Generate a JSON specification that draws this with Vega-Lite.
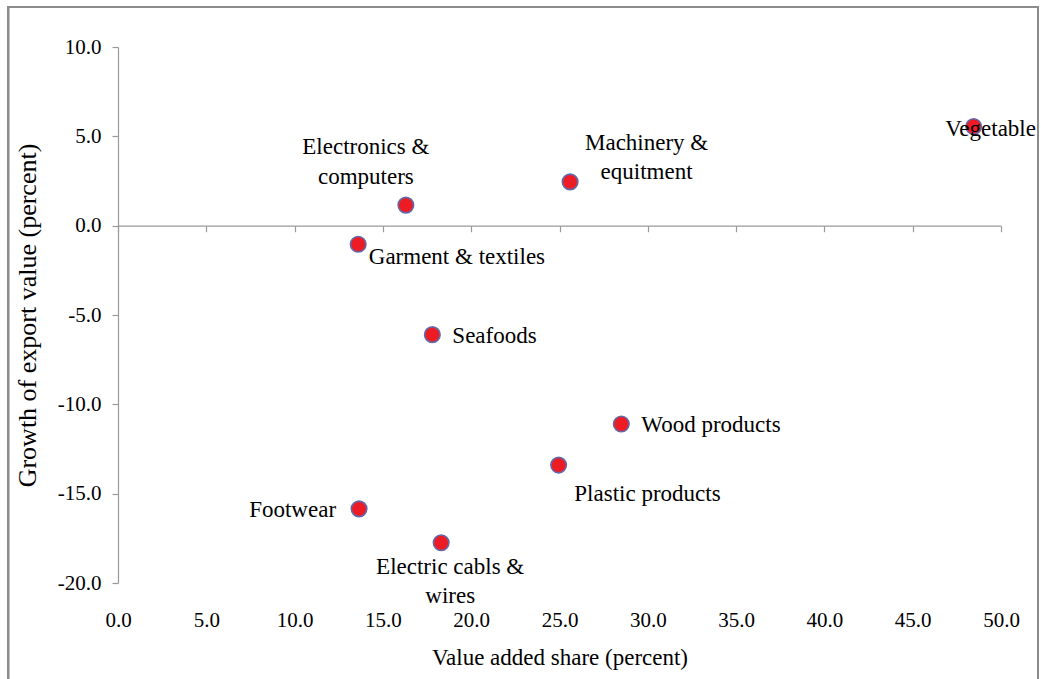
{
  "$schema": "https://vega.github.io/schema/vega-lite/v6.json",
  "width": 883,
  "height": 536,
  "autosize": {"type": "none"},
  "padding": {"left": 118, "top": 47, "right": 40, "bottom": 96},
  "background": "white",
  "config": {
    "view": {"stroke": null},
    "font": "'Liberation Serif', 'Times New Roman', 'DejaVu Serif', serif",
    "text": {"font": "'Liberation Serif', 'Times New Roman', 'DejaVu Serif', serif", "fontSize": 23, "color": "black"},
    "axis": {
      "labelFont": "'Liberation Serif', 'Times New Roman', 'DejaVu Serif', serif",
      "titleFont": "'Liberation Serif', 'Times New Roman', 'DejaVu Serif', serif",
      "labelFontSize": 21,
      "titleFontSize": 23,
      "labelColor": "black",
      "titleColor": "black",
      "titleFontWeight": "normal",
      "domainColor": "#9a9a9a",
      "tickColor": "#9a9a9a",
      "domainWidth": 1.2,
      "tickWidth": 1.2,
      "grid": false
    }
  },
  "data": {
    "values": [
      {"sector": "Electronics & computers", "label": "Electronics &\ncomputers", "share": 16.3, "growth": 1.15},
      {"sector": "Machinery & equitment", "label": "Machinery &\nequitment", "share": 25.6, "growth": 2.45},
      {"sector": "Garment & textiles", "label": "Garment & textiles", "share": 13.6, "growth": -1.04},
      {"sector": "Vegetable", "label": "Vegetable", "share": 48.45, "growth": 5.55},
      {"sector": "Seafoods", "label": "Seafoods", "share": 17.8, "growth": -6.1},
      {"sector": "Wood products", "label": "Wood products", "share": 28.5, "growth": -11.1},
      {"sector": "Plastic products", "label": "Plastic products", "share": 24.95, "growth": -13.4},
      {"sector": "Footwear", "label": "Footwear", "share": 13.65, "growth": -15.85},
      {"sector": "Electric cabls & wires", "label": "Electric cabls &\nwires", "share": 18.3, "growth": -17.75}
    ]
  },
  "encoding": {
    "x": {
      "field": "share", "type": "quantitative",
      "scale": {"domain": [0, 50], "nice": false, "zero": false},
      "axis": {
        "title": "Value added share (percent)",
        "values": [0, 5, 10, 15, 20, 25, 30, 35, 40, 45, 50],
        "format": ".1f",
        "offset": -357.3,
        "tickSize": 6,
        "labelPadding": 378,
        "labelFlush": false,
        "labelOverlap": false,
        "titleY": 439,
        "titleBaseline": "alphabetic"
      }
    },
    "y": {
      "field": "growth", "type": "quantitative",
      "scale": {"domain": [-20, 10], "nice": false, "zero": false},
      "axis": {
        "title": "Growth of export value (percent)",
        "values": [-20, -15, -10, -5, 0, 5, 10],
        "format": ".1f",
        "labelExpr": "replace(datum.label, '−', '-')",
        "tickSize": 6,
        "labelPadding": 11,
        "labelFlush": false,
        "labelOverlap": false,
        "titleX": -83,
        "titleBaseline": "alphabetic",
        "titleFontSize": 26
      }
    }
  },
  "layer": [
    {
      "mark": {"type": "rect", "fill": null, "stroke": "#8c8c8c", "strokeWidth": 1.5, "clip": false},
      "encoding": {
        "x": {"datum": -6.21, "type": "quantitative"},
        "x2": {"datum": 52.09},
        "y": {"datum": 12.24, "type": "quantitative"},
        "y2": {"datum": -26}
      }
    },
    {
      "mark": {"type": "point", "shape": "circle", "filled": true, "size": 240, "fill": "#ED1C24", "stroke": "#6468A8", "strokeWidth": 1.6, "opacity": 1}
    },
    {
      "transform": [{"filter": {"field": "sector", "oneOf": ["Seafoods", "Wood products"]}}],
      "mark": {"type": "text", "align": "left", "baseline": "alphabetic", "dx": 20, "dy": 8.5},
      "encoding": {"text": {"field": "label"}}
    },
    {
      "transform": [{"filter": {"field": "sector", "equal": "Garment & textiles"}}],
      "mark": {"type": "text", "align": "left", "baseline": "alphabetic", "dx": 10.6, "dy": 19.3},
      "encoding": {"text": {"field": "label"}}
    },
    {
      "transform": [{"filter": {"field": "sector", "equal": "Plastic products"}}],
      "mark": {"type": "text", "align": "left", "baseline": "alphabetic", "dx": 15.7, "dy": 35.7},
      "encoding": {"text": {"field": "label"}}
    },
    {
      "transform": [{"filter": {"field": "sector", "equal": "Footwear"}}],
      "mark": {"type": "text", "align": "right", "baseline": "alphabetic", "dx": -23, "dy": 8},
      "encoding": {"text": {"field": "label"}}
    },
    {
      "transform": [{"filter": {"field": "sector", "equal": "Vegetable"}}],
      "mark": {"type": "text", "align": "center", "baseline": "alphabetic", "dx": 17, "dy": 9.5},
      "encoding": {"text": {"field": "label"}}
    },
    {
      "transform": [{"filter": {"field": "sector", "equal": "Electronics & computers"}}],
      "mark": {"type": "text", "align": "center", "baseline": "alphabetic", "dx": -40, "dy": -51, "lineBreak": "\n", "lineHeight": 29.5},
      "encoding": {"text": {"field": "label"}}
    },
    {
      "transform": [{"filter": {"field": "sector", "equal": "Machinery & equitment"}}],
      "mark": {"type": "text", "align": "center", "baseline": "alphabetic", "dx": 76.5, "dy": -32, "lineBreak": "\n", "lineHeight": 29.5},
      "encoding": {"text": {"field": "label"}}
    },
    {
      "transform": [{"filter": {"field": "sector", "equal": "Electric cabls & wires"}}],
      "mark": {"type": "text", "align": "center", "baseline": "alphabetic", "dx": 9, "dy": 31, "lineBreak": "\n", "lineHeight": 29.5},
      "encoding": {"text": {"field": "label"}}
    }
  ]
}
